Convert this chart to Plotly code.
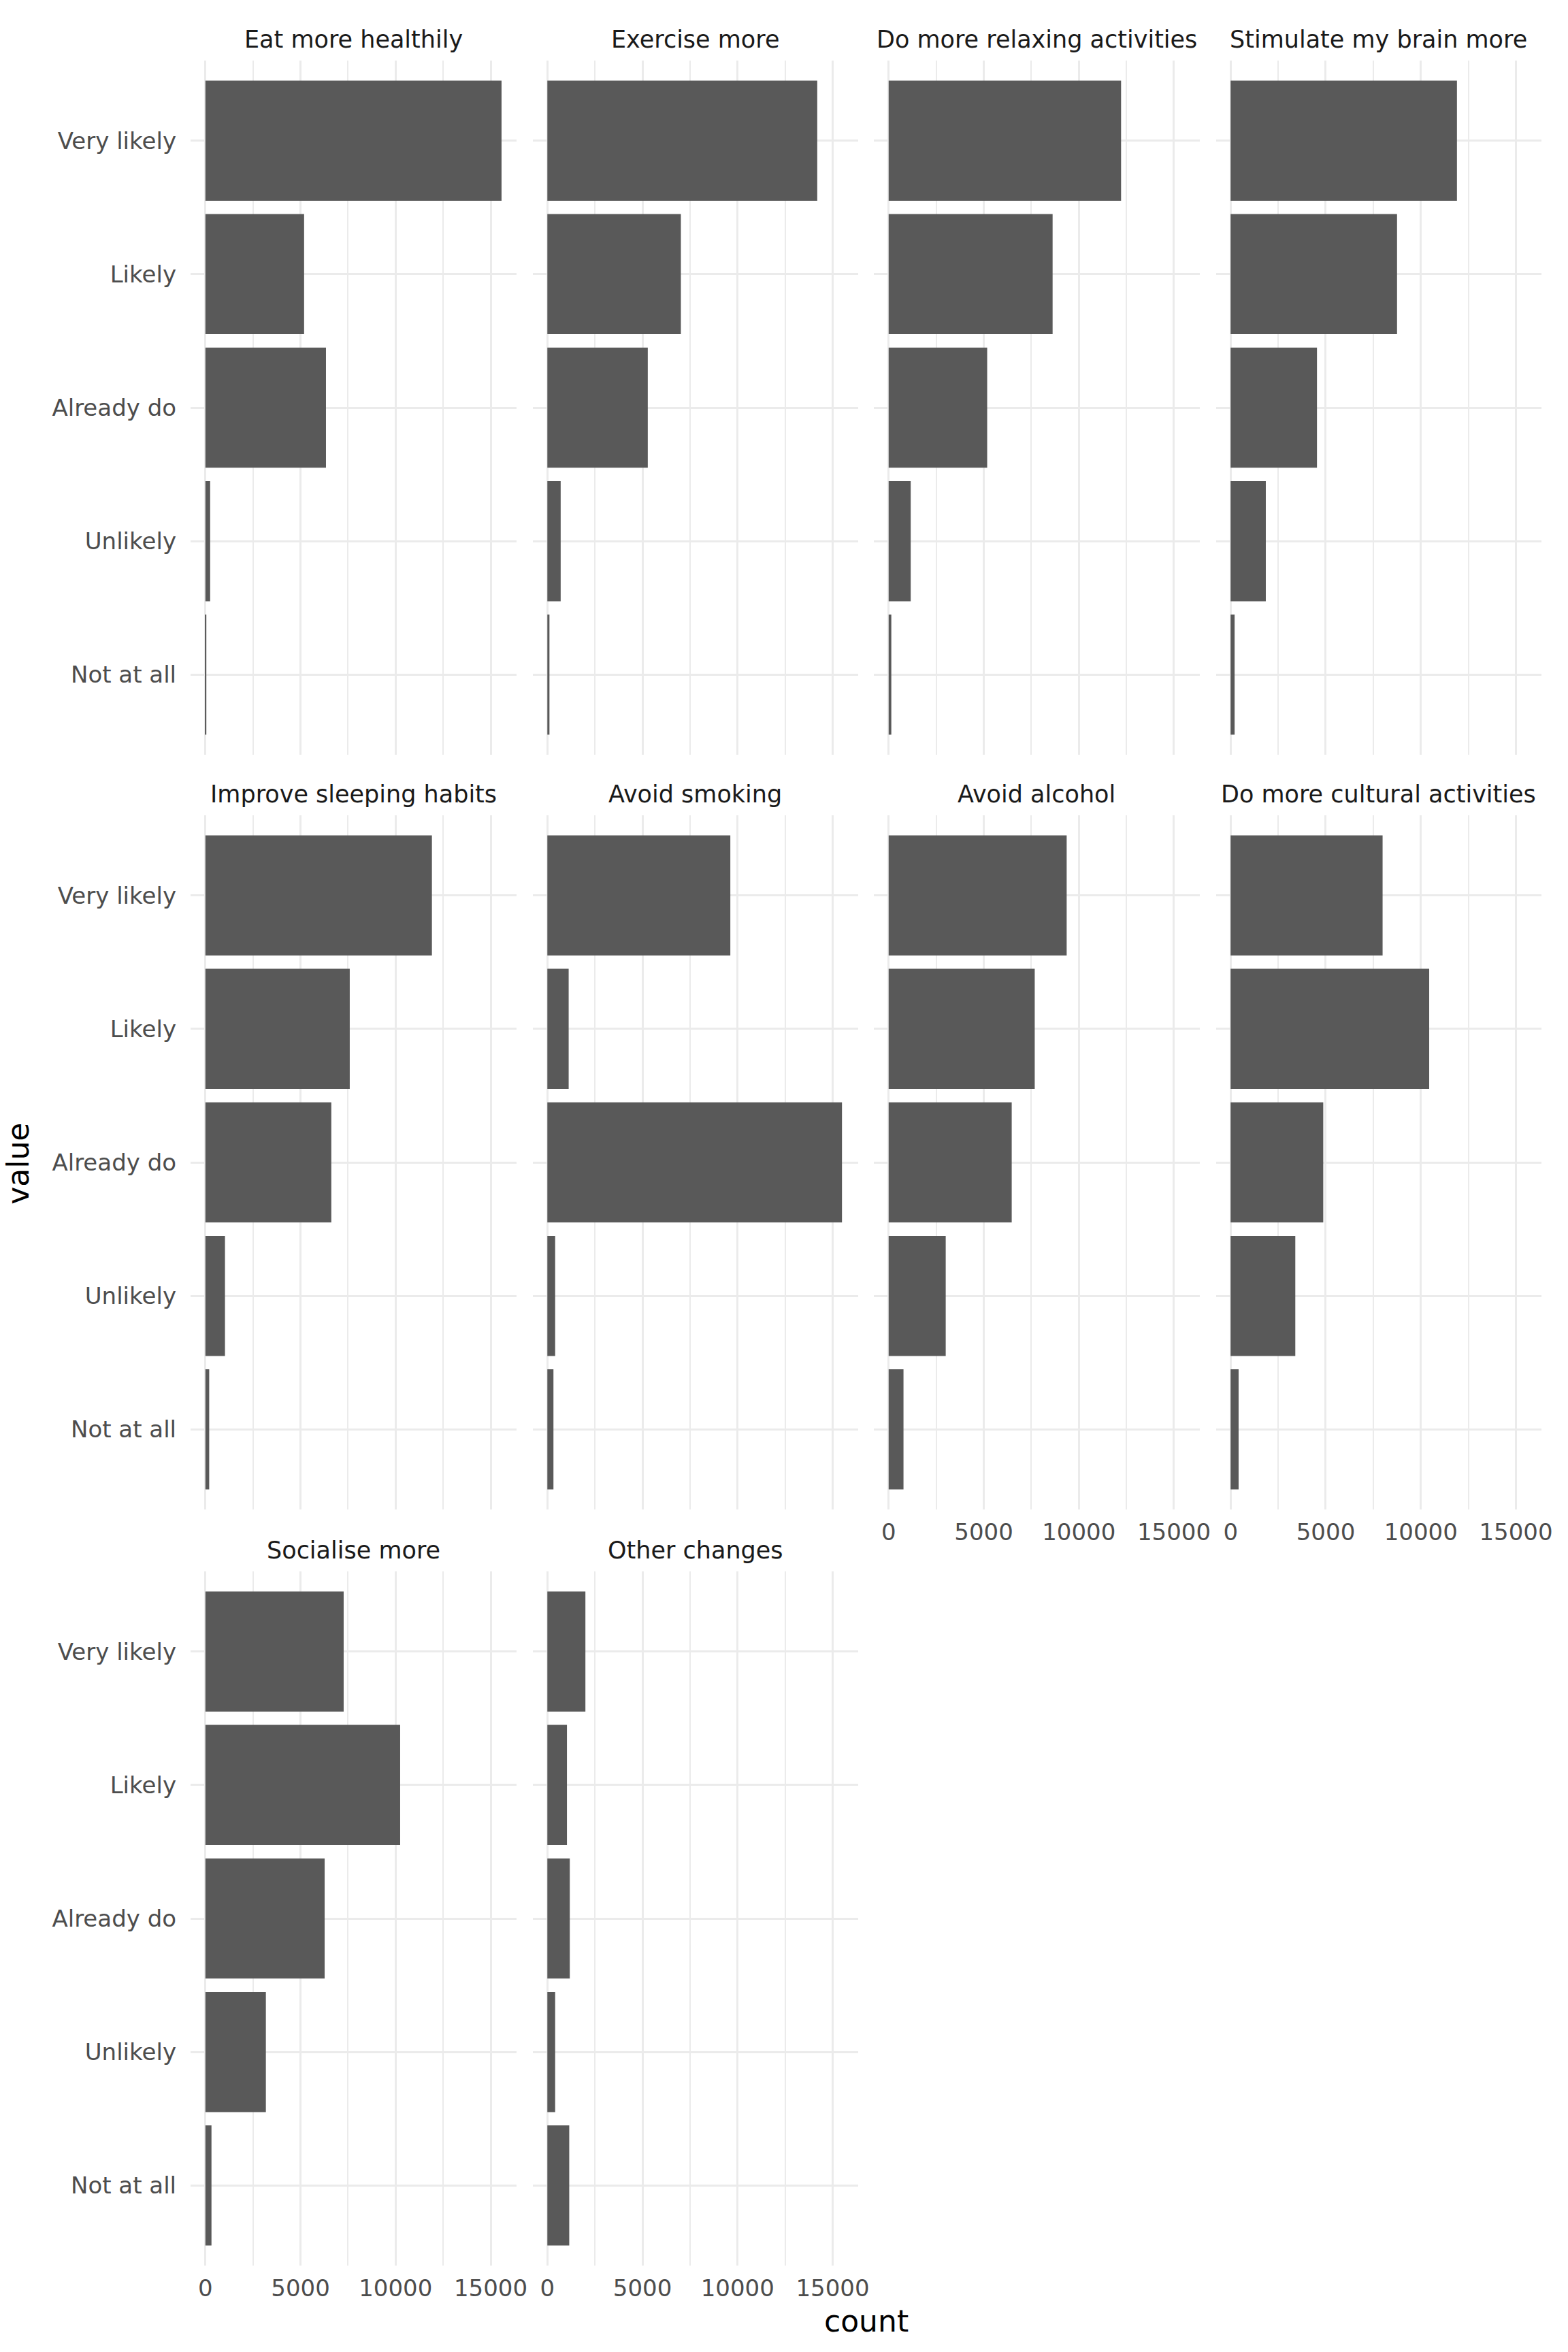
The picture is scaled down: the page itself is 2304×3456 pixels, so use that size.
import plotly.graph_objects as go

# ---- data ----
levels = ["Very likely", "Likely", "Already do", "Unlikely", "Not at all"]
facets = ["Eat more healthily", "Exercise more", "Do more relaxing activities",
          "Stimulate my brain more", "Improve sleeping habits", "Avoid smoking",
          "Avoid alcohol", "Do more cultural activities", "Socialise more", "Other changes"]

eat_healthily = [15570, 5190, 6340, 250, 50]
exercise = [14190, 7020, 5280, 700, 110]
relaxing = [12220, 8620, 5180, 1160, 140]
stimulate_brain = [11900, 8750, 4540, 1850, 210]
sleeping = [11910, 7590, 6620, 1030, 200]
smoking = [9620, 1120, 15490, 410, 320]
alcohol = [9360, 7680, 6470, 3000, 780]
cultural = [7990, 10440, 4870, 3400, 420]
socialise = [7270, 10240, 6270, 3180, 320]
other = [2000, 1030, 1180, 410, 1150]

series = [eat_healthily, exercise, relaxing, stimulate_brain, sleeping,
          smoking, alcohol, cultural, socialise, other]

x_ticks = [0, 5000, 10000, 15000]
x_ticktext = ["0", "5000", "10000", "15000"]

# ---- layout geometry (pixels) ----
W, H = 2304, 3456
col_left = [282, 788, 1293, 1799]
row_top = [89, 1198, 2309]
pw, ph = 482, 1020

FONT = "DejaVu Sans"
BAR = "#595959"
GRID = "#EBEBEB"
TICK_SIZE = 34
STRIP_SIZE = 35
TITLE_SIZE = 44

vmax = max(max(s) for s in series)
xr = [-0.05 * vmax, 1.05 * vmax]

fig = go.Figure()
n_rows_in_col = {0: 3, 1: 3, 2: 2, 3: 2}

layout = dict()
annotations = []
for i, (name, vals) in enumerate(zip(facets, series)):
    r, c = divmod(i, 4)
    ax = i + 1
    xa = "xaxis" if ax == 1 else f"xaxis{ax}"
    ya = "yaxis" if ax == 1 else f"yaxis{ax}"
    xref = "x" if ax == 1 else f"x{ax}"
    yref = "y" if ax == 1 else f"y{ax}"
    left = col_left[c]
    top = row_top[r]
    xd = [left / W, (left + pw) / W]
    yd = [1 - (top + ph) / H, 1 - top / H]
    bottom_of_col = (r == n_rows_in_col[c] - 1)
    fig.add_trace(go.Bar(
        x=vals, y=levels, orientation="h", xaxis=xref, yaxis=yref,
        marker=dict(color=BAR, line=dict(width=0)), width=0.9,
        hoverinfo="skip", showlegend=False))
    layout[xa] = dict(
        domain=xd, anchor=yref, range=xr, tickvals=x_ticks, ticktext=x_ticktext,
        showticklabels=bottom_of_col, showgrid=True, gridcolor=GRID, gridwidth=3,
        zeroline=False, showline=False, ticks="", ticklabelstandoff=10,
        tickfont=dict(family=FONT, size=TICK_SIZE, color="#4D4D4D"),
        minor=dict(tickvals=[2500, 7500, 12500], showgrid=True, gridcolor=GRID, gridwidth=1.5),
        fixedrange=True)
    layout[ya] = dict(
        domain=yd, anchor=xref, type="category",
        categoryorder="array", categoryarray=levels[::-1], range=[-0.6, 4.6],
        showticklabels=(c == 0), showgrid=True, gridcolor=GRID, gridwidth=3,
        zeroline=False, showline=False, ticks="", ticklabelstandoff=20,
        tickfont=dict(family=FONT, size=TICK_SIZE, color="#4D4D4D"), fixedrange=True)
    annotations.append(dict(
        text=name, xref="paper", yref="paper",
        x=(left + pw / 2) / W, y=1 - (top - 31) / H,
        xanchor="center", yanchor="middle", showarrow=False,
        font=dict(family=FONT, size=STRIP_SIZE, color="#1A1A1A")))

annotations.append(dict(text="count", xref="paper", yref="paper",
                        x=(282 + 2281) / 2 / W, y=1 - 3410 / H,
                        xanchor="center", yanchor="middle", showarrow=False,
                        font=dict(family=FONT, size=TITLE_SIZE, color="#000000")))
annotations.append(dict(text="value", xref="paper", yref="paper",
                        x=26 / W, y=1 - 1710 / H, textangle=-90,
                        xanchor="center", yanchor="middle", showarrow=False,
                        font=dict(family=FONT, size=TITLE_SIZE, color="#000000")))

fig.update_layout(
    width=W, height=H, margin=dict(l=0, r=0, t=0, b=0),
    paper_bgcolor="white", plot_bgcolor="white",
    barmode="group", bargap=0.1, annotations=annotations,
    font=dict(family=FONT), **layout)

fig.write_html("out.html")
